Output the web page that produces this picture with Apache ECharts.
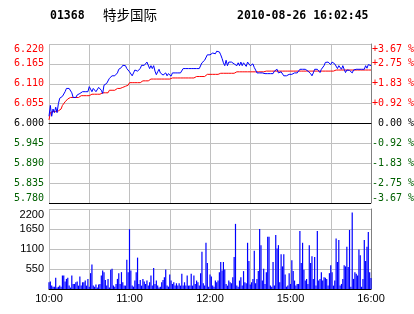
<!DOCTYPE html>
<html><head><meta charset="utf-8">
<script src="https://cdn.jsdelivr.net/npm/echarts@6/dist/echarts.min.js"></script>
<style>html,body{margin:0;padding:0;background:#fff}#c{width:414px;height:314px}</style>
</head><body><div id="c"></div>
<script>
const stockCode = '01368';
const stockName = '特步国际';
const stamp = '2010-08-26 16:02:45';
const prevClose = 6.00;
const priceStep = 0.055;
const volMax = 2200;
const volStep = 550;
const tickLabels = ['10:00', '11:00', '12:00', '15:00', '16:00'];

const price = [
6.020,6.050,6.020,6.040,6.030,6.045,6.030,6.055,6.070,6.070,
6.075,6.080,6.088,6.097,6.102,6.097,6.100,6.085,6.072,6.072,
6.072,6.079,6.079,6.083,6.088,6.088,6.088,6.088,6.088,6.088,
6.102,6.100,6.088,6.097,6.102,6.088,6.088,6.100,6.100,6.092,
6.083,6.106,6.111,6.111,6.115,6.125,6.130,6.132,6.132,6.132,
6.132,6.140,6.150,6.152,6.155,6.161,6.161,6.160,6.152,6.150,
6.143,6.140,6.132,6.140,6.148,6.152,6.145,6.143,6.152,6.161,
6.161,6.161,6.165,6.170,6.165,6.152,6.160,6.152,6.160,6.145,
6.135,6.143,6.150,6.140,6.138,6.134,6.134,6.140,6.132,6.138,
6.136,6.131,6.140,6.140,6.140,6.140,6.140,6.140,6.140,6.145,
6.152,6.152,6.152,6.152,6.152,6.152,6.152,6.152,6.152,6.152,
6.152,6.152,6.152,6.152,6.168,6.170,6.175,6.175,6.190,6.190,
6.190,6.190,6.195,6.198,6.193,6.200,6.200,6.198,6.190,6.180,
6.168,6.160,6.175,6.160,6.170,6.170,6.170,6.170,6.165,6.160,
6.160,6.168,6.160,6.170,6.160,6.168,6.165,6.158,6.170,6.172,
6.160,6.155,6.165,6.155,6.148,6.140,6.140,6.140,6.140,6.140,
6.140,6.138,6.138,6.138,6.138,6.138,6.138,6.138,6.145,6.140,
6.150,6.140,6.138,6.143,6.138,6.132,6.132,6.132,6.136,6.136,
6.136,6.136,6.140,6.140,6.140,6.140,6.140,6.150,6.150,6.150,
6.150,6.150,6.150,6.145,6.143,6.138,6.132,6.140,6.150,6.150,
6.150,6.150,6.141,6.150,6.155,6.160,6.169,6.170,6.170,6.170,
6.163,6.170,6.165,6.165,6.169,6.152,6.160,6.155,6.150,6.160,
6.150,6.141,6.148,6.150,6.147,6.150,6.140,6.148,6.150,6.150,
6.150,6.150,6.150,6.150,6.150,6.150,6.160,6.153,6.163,6.160,
6.160
];

const avgPrice = [
6.010,6.030,6.033,6.033,6.033,6.033,6.033,6.035,6.037,6.040,
6.050,6.055,6.060,6.065,6.068,6.072,6.072,6.072,6.072,6.072,
6.072,6.072,6.072,6.072,6.077,6.077,6.077,6.077,6.077,6.077,
6.077,6.081,6.081,6.081,6.081,6.081,6.081,6.081,6.081,6.081,
6.085,6.085,6.085,6.085,6.085,6.092,6.092,6.092,6.092,6.092,
6.092,6.097,6.097,6.097,6.100,6.100,6.100,6.103,6.106,6.106,
6.113,6.113,6.113,6.113,6.113,6.113,6.113,6.113,6.113,6.113,
6.118,6.118,6.118,6.118,6.118,6.118,6.123,6.123,6.123,6.123,
6.123,6.123,6.123,6.123,6.123,6.123,6.123,6.123,6.123,6.123,
6.123,6.123,6.126,6.126,6.126,6.126,6.126,6.126,6.126,6.126,
6.126,6.126,6.126,6.126,6.126,6.126,6.126,6.126,6.126,6.126,
6.130,6.130,6.130,6.130,6.130,6.130,6.130,6.130,6.136,6.136,
6.136,6.136,6.136,6.136,6.136,6.136,6.136,6.136,6.139,6.139,
6.139,6.139,6.139,6.139,6.139,6.139,6.139,6.139,6.139,6.143,
6.143,6.143,6.143,6.143,6.143,6.143,6.143,6.143,6.143,6.143,
6.143,6.143,6.143,6.143,6.143,6.143,6.143,6.143,6.143,6.143,
6.143,6.145,6.145,6.145,6.145,6.145,6.145,6.145,6.145,6.145,
6.145,6.145,6.145,6.145,6.145,6.145,6.145,6.145,6.145,6.145,
6.145,6.145,6.145,6.145,6.145,6.145,6.145,6.145,6.145,6.145,
6.145,6.145,6.145,6.145,6.145,6.145,6.145,6.145,6.145,6.145,
6.145,6.145,6.145,6.145,6.145,6.145,6.145,6.145,6.145,6.145,
6.145,6.145,6.145,6.148,6.148,6.148,6.148,6.148,6.148,6.148,
6.148,6.148,6.148,6.148,6.148,6.148,6.148,6.148,6.148,6.148,
6.148,6.148,6.148,6.148,6.148,6.148,6.148,6.148,6.148,6.148,
6.148
];

const volume = [
185,204,93,65,65,306,40,65,93,65,
371,371,204,278,306,93,40,371,139,139,
185,204,93,343,93,185,185,232,93,278,
65,436,677,93,65,121,40,121,139,371,
510,464,250,93,278,40,529,557,93,65,
139,278,436,139,464,185,93,93,807,464,
1643,510,93,65,232,464,863,139,250,93,
278,204,139,232,93,185,371,93,575,139,
232,93,40,65,185,250,325,538,93,65,
399,232,139,185,93,158,93,158,93,418,
93,185,93,371,93,93,418,93,371,139,
232,185,93,436,1021,158,93,1271,714,65,
399,343,93,65,232,185,232,464,742,510,
742,538,139,93,232,185,158,325,882,1791,
93,65,232,325,93,492,185,158,1271,770,
121,185,278,1049,158,278,492,1652,1206,232,
557,139,464,1438,1438,93,65,742,93,1485,
1114,1206,185,956,622,956,399,65,93,436,
139,789,492,232,93,139,139,1596,714,1271,
529,232,278,139,1206,714,900,278,882,93,
1596,232,278,464,232,325,306,278,93,436,
650,464,93,232,1392,742,1346,93,139,278,
650,622,1160,603,1624,65,2106,278,464,418,
371,1086,928,65,278,1346,770,1160,1568,464,
300
];

// trading-minute categories: 10:00-12:30, then 14:31-16:00
function buildTimes() {
  const out = [];
  const fmt = t => String(Math.floor(t / 60)).padStart(2, '0') + ':' + String(t % 60).padStart(2, '0');
  for (let t = 600; t <= 750; t++) out.push(fmt(t));
  for (let t = 871; t <= 960; t++) out.push(fmt(t));
  return out;
}
const times = buildTimes();

const MONO = 'DejaVu Sans Mono';
const SANS = 'Liberation Sans';
const RED = '#ff0000', GREEN = '#006000', BLACK = '#000000';
const GRID_GRAY = '#c0c0c0';

function stepIndex(v) { return Math.round((v) / priceStep); }
function leftFmt(v) {
  const k = stepIndex(v);
  const txt = (prevClose + k * priceStep).toFixed(3);
  return '{' + (k > 0 ? 'r' : k < 0 ? 'g' : 'k') + '|' + txt + '}';
}
function rightFmt(v) {
  const k = stepIndex(v);
  const pct = Math.abs(k * priceStep / prevClose * 100).toFixed(2);
  if (k > 0) return '{r|+' + pct + ' %}';
  if (k < 0) return '{g|-' + pct + ' %}';
  return '{k| ' + pct + ' %}';
}
const richMono = {
  r: { color: RED, fontFamily: MONO, fontSize: 10 },
  g: { color: GREEN, fontFamily: MONO, fontSize: 10 },
  k: { color: BLACK, fontFamily: MONO, fontSize: 10 }
};

const priceDiff = price.map(p => +(p - prevClose).toFixed(4));
const avgDiff = avgPrice.map(p => +(p - prevClose).toFixed(4));

const chart = echarts.init(document.getElementById('c'), null, { renderer: 'canvas' });
chart.setOption({
  animation: false,
  backgroundColor: '#ffffff',
  graphic: [
    { type: 'text', left: 50, top: 10, style: { text: stockCode, font: 'bold 11.5px "DejaVu Sans Mono"', fill: '#000' } },
    { type: 'text', left: 103, top: 8, style: { text: stockName, font: '13.5px "Noto Sans CJK SC"', fill: '#000' } },
    { type: 'text', left: 237, top: 10, style: { text: stamp, font: 'bold 11.5px "DejaVu Sans Mono"', fill: '#000' } }
  ],
  grid: [
    { left: 49, top: 44, width: 322, height: 159, outerBoundsMode: 'none', containLabel: false },
    { left: 49, top: 209, width: 322, height: 80, outerBoundsMode: 'none', containLabel: false }
  ],
  xAxis: [
    {
      gridIndex: 0, type: 'category', data: times, boundaryGap: false,
      axisLine: { show: true, lineStyle: { color: BLACK, width: 1 } },
      axisTick: { show: false }, axisLabel: { show: false },
      splitLine: { show: true, interval: (i) => i % 30 === 0, lineStyle: { color: GRID_GRAY, width: 1 } }
    },
    {
      gridIndex: 1, type: 'category', data: times, boundaryGap: false,
      axisLine: { show: true, lineStyle: { color: BLACK, width: 1 } },
      axisTick: { show: false },
      axisLabel: {
        show: true, interval: (i, v) => tickLabels.indexOf(v) >= 0 && !(i === 150),
        fontFamily: SANS, fontSize: 11, color: '#000', margin: 4
      },
      splitLine: { show: true, interval: (i) => i % 30 === 0, lineStyle: { color: GRID_GRAY, width: 1 } }
    }
  ],
  yAxis: [
    {
      gridIndex: 0, type: 'value', position: 'left',
      min: -4 * priceStep, max: 4 * priceStep, interval: priceStep,
      axisLine: { show: false }, axisTick: { show: false },
      axisLabel: { margin: 5, formatter: leftFmt, rich: richMono, verticalAlignMinLabel: 'bottom', verticalAlignMaxLabel: 'top' },
      splitLine: { show: true, lineStyle: { width: 1, color: [BLACK, GRID_GRAY, GRID_GRAY, GRID_GRAY, BLACK, GRID_GRAY, GRID_GRAY, GRID_GRAY, GRID_GRAY] } }
    },
    {
      gridIndex: 0, type: 'value', position: 'right',
      min: -4 * priceStep, max: 4 * priceStep, interval: priceStep,
      axisLine: { show: true, lineStyle: { color: '#808080', width: 1 } }, axisTick: { show: false },
      axisLabel: { margin: 1, align: 'left', formatter: rightFmt, rich: richMono, verticalAlignMinLabel: 'bottom', verticalAlignMaxLabel: 'top' },
      splitLine: { show: false }
    },
    {
      gridIndex: 1, type: 'value', position: 'left',
      min: 0, max: volMax, interval: volStep,
      axisLine: { show: false }, axisTick: { show: false },
      axisLabel: {
        margin: 5, fontFamily: SANS, fontSize: 11, color: '#000',
        formatter: v => (v === 0 ? '' : String(v)), verticalAlignMaxLabel: 'top'
      },
      splitLine: { show: true, lineStyle: { width: 1, color: [BLACK, GRID_GRAY, GRID_GRAY, GRID_GRAY, GRID_GRAY] } }
    },
    {
      gridIndex: 1, type: 'value', position: 'right',
      min: 0, max: volMax, interval: volStep,
      axisLine: { show: true, lineStyle: { color: '#808080', width: 1 } }, axisTick: { show: false },
      axisLabel: { show: false }, splitLine: { show: false }
    }
  ],
  series: [
    {
      name: 'avg', type: 'line', xAxisIndex: 0, yAxisIndex: 0, data: avgDiff,
      symbol: 'none', lineStyle: { color: RED, width: 1 }, z: 3, silent: true
    },
    {
      name: 'price', type: 'line', xAxisIndex: 0, yAxisIndex: 0, data: priceDiff,
      symbol: 'none', lineStyle: { color: '#0000ff', width: 1 }, z: 4, silent: true
    },
    {
      name: 'volume', type: 'bar', xAxisIndex: 1, yAxisIndex: 2, data: volume,
      barWidth: 1.2, itemStyle: { color: '#0000ff' }, silent: true, z: 3
    }
  ]
});
</script>
</body></html>
